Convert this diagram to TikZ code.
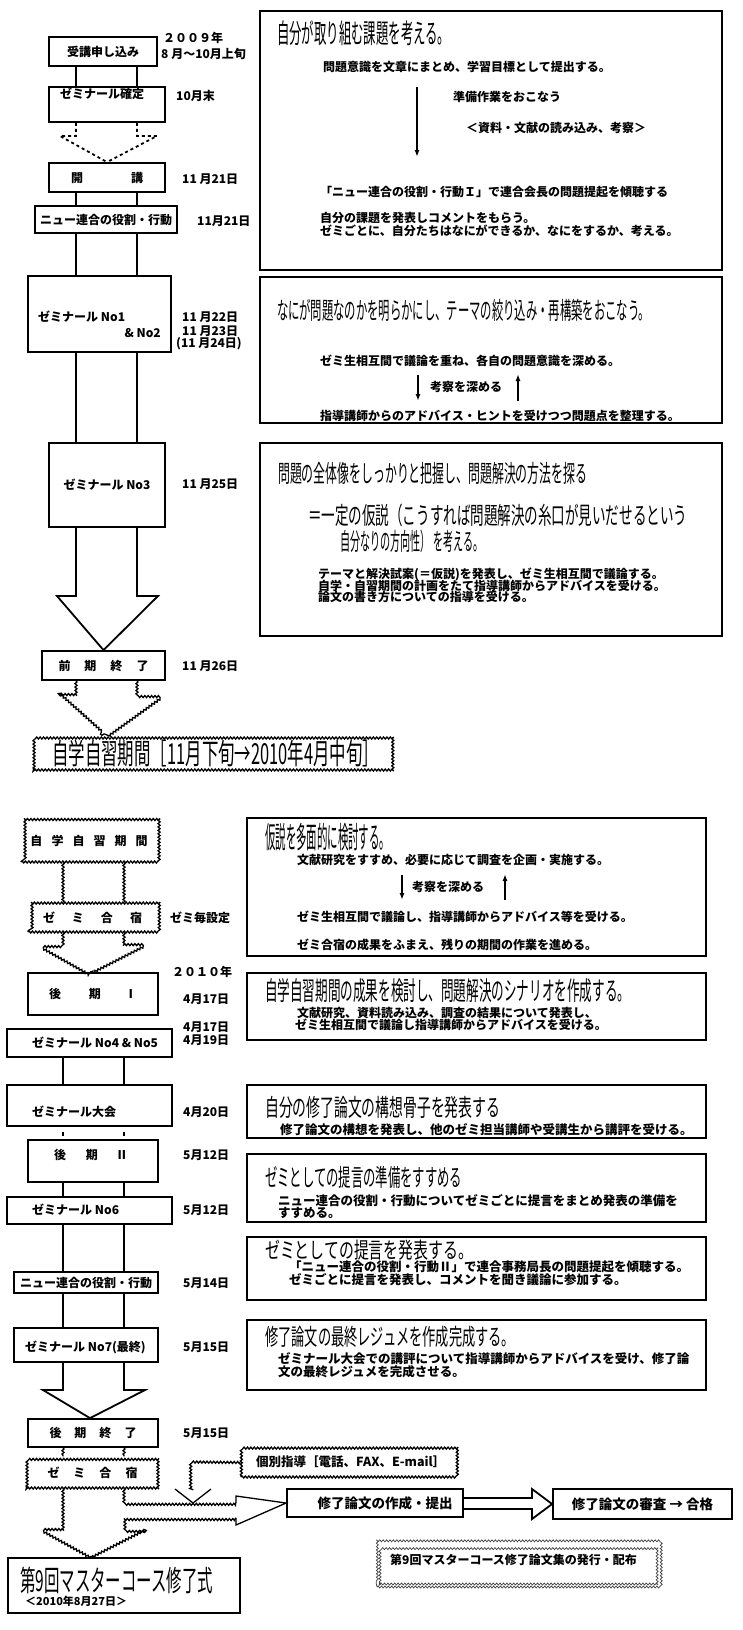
\documentclass[tikz,border=0pt]{standalone}
\usepackage{fontspec}
\usepackage{graphicx}
\usetikzlibrary{arrows.meta,decorations.pathmorphing,fit,calc}
\newfontfamily\jp{Noto Sans CJK JP}
\newcommand\ttl[3]{{\jp\fontsize{#1}{#1}\selectfont\resizebox{#2}{\height}{#3}}}
\newcommand\gap[1]{\hspace*{#1}}
\begin{document}
\begin{tikzpicture}[x=1pt,y=-1pt,
  box/.style={draw,line width=1.8pt,inner sep=0pt},
  wave/.style={decorate,decoration={snake,amplitude=1pt,segment length=3.4pt}},
  wbox/.style={draw,inner sep=0pt,line width=1.3pt,wave},
  ln/.style={line width=1.8pt},
  thn/.style={line width=1.3pt},
  wln/.style={line width=1.3pt,wave},
  dln/.style={line width=1.8pt,dash pattern=on 3pt off 3pt},
  tx/.style={inner sep=0pt,anchor=west,font={\jp\bfseries\fontsize{12}{12}\selectfont}},
  tl/.style={tx,font={\jp\bfseries\fontsize{12.5}{12.5}\selectfont}},
  tb/.style={tx,font={\jp\bfseries\fontsize{13.5}{13.5}\selectfont}},
  tt/.style={inner sep=0pt,anchor=west},
  ar/.style={line width=1.4pt,-{Latex[length=7pt,width=5pt]}},
]
\path[use as bounding box,fill=white] (0,0) rectangle (742,1630);
\coordinate (L1) at (76,0); \coordinate (R1) at (137,0);
\coordinate (L2) at (63,0); \coordinate (R2) at (124,0);

% ---------------- upper left column
\node[box,fit={(49,37)(157,66)}] (b1) {};
\node[tx,anchor=center] (b1t) at (b1.center) {受講申し込み};
\node[tx] (y09) at (163,38) {２００９年};
\node[tx] (d01) at (161,54) {8 月〜10月上旬};
\node[box,fit={(49,87)(165,122)}] (b2) {};
\node[tx] (b2t) at (60,94) {ゼミナール確定};
\node[tx] (d02) at (176,96) {10月末};
\node[box,fit={(49,163)(165,192)}] (b3) {};
\node[tx,anchor=center] (b3t) at (107,178) {開\gap{48pt}講};
\node[tx] (d03) at (182,179) {11 月21日};
\node[box,fit={(35,206)(177,233)}] (b4) {};
\node[tx,anchor=center] (b4t) at (b4.center) {ニュー連合の役割・行動};
\node[tx] (d04) at (197,221) {11月21日};
\node[box,fit={(28,276)(171,352)}] (b5) {};
\node[tx] (b5t) at (38,317) {ゼミナール No1};
\node[tx,anchor=east] (b5u) at (161,333) {\& No2};
\node[tx] (d05) at (182,317) {11 月22日};
\node[tx] (d06) at (182,331) {11 月23日};
\node[tx] (d07) at (176,344) {(11 月24日)};
\node[box,fit={(49,443)(165,527)}] (b6) {};
\node[tx,anchor=center] (b6t) at (b6.center) {ゼミナール No3};
\node[tx] (d08) at (182,484) {11 月25日};
\node[box,fit={(42,651)(165,680)}] (b7) {};
\node[tx,anchor=center] (b7t) at (b7.center) {前\gap{14pt}期\gap{14pt}終\gap{14pt}了};
\node[tx] (d09) at (182,666) {11 月26日};
\node[wbox,fit={(34,736)(393,770)}] (b8) {};
\node[tt] (b8t) at (52,753) {\ttl{29}{327pt}{自学自習期間［11月下旬→2010年4月中旬］}};

% connectors upper left
\draw[ln] (L1 |- b1.south) -- (L1 |- b2.north);
\draw[ln] (R1 |- b1.south) -- (R1 |- b2.north);
\draw[dln] (L1 |- b2.south) -- (76,136) -- (60,136) -- (b3.north);
\draw[dln] (R1 |- b2.south) -- (137,136) -- (157,136) -- (b3.north);
\draw[ln] (L1 |- b3.south) -- (L1 |- b4.north);
\draw[ln] (R1 |- b3.south) -- (R1 |- b4.north);
\draw[ln] (L1 |- b4.south) -- (L1 |- b5.north);
\draw[ln] (R1 |- b4.south) -- (R1 |- b5.north);
\draw[ln] (L1 |- b5.south) -- (L1 |- b6.north);
\draw[ln] (R1 |- b5.south) -- (R1 |- b6.north);
\draw[ln,line join=miter] (L1 |- b6.south) -- (76,596) -- (57,596) -- (b7.north) -- (158,596) -- (137,596) -- (R1 |- b6.south);
\draw[wln] (L1 |- b7.south) -- (76,695) -- (57,695) -- (b8.north -| 102,0);
\draw[wln] (R1 |- b7.south) -- (137,695) -- (158,695) -- (b8.north -| 102,0);

% ---------------- upper right boxes
\node[box,fit={(260,11)(722,270)}] (B1) {};
\node[tt] (B1a) at (277,33) {\ttl{27}{173pt}{自分が取り組む課題を考える。}};
\node[tx] (B1b) at (323,67) {問題意識を文章にまとめ、学習目標として提出する。};
\draw[ar] (417,87) coordinate (B1s) -- (417,157) coordinate (B1e);
\node[tx] (B1c) at (453,97) {準備作業をおこなう};
\node[tx] (B1d) at (466,128) {＜資料・文献の読み込み、考察＞};
\node[tx] (B1f) at (320,192) {「ニュー連合の役割・行動Ｉ」で連合会長の問題提起を傾聴する};
\node[tx] (B1g) at (320,218) {自分の課題を発表しコメントをもらう。};
\node[tx] (B1h) at (320,231) {ゼミごとに、自分たちはなにができるか、なにをするか、考える。};

\node[box,fit={(260,277)(722,423)}] (B2) {};
\node[tt] (B2a) at (277,310) {\ttl{24}{373pt}{なにが問題なのかを明らかにし、テーマの絞り込み・再構築をおこなう。}};
\node[tx] (B2b) at (320,361) {ゼミ生相互間で議論を重ね、各自の問題意識を深める。};
\node[tx] (B2c) at (430,387) {考察を深める};
\node[tx] (B2d) at (320,416) {指導講師からのアドバイス・ヒントを受けつつ問題点を整理する。};
\draw[ar] (418,375) -- (418,401);
\draw[ar] (518,401) -- (518,374);

\node[box,fit={(260,443)(722,636)}] (B3) {};
\node[tt] (B3a) at (278,473) {\ttl{24}{309pt}{問題の全体像をしっかりと把握し、問題解決の方法を探る}};
\node[tt] (B3b) at (308,515) {\ttl{24}{379pt}{＝一定の仮説（こうすれば問題解決の糸口が見いだせるという}};
\node[tt] (B3c) at (340,541) {\ttl{24}{143pt}{自分なりの方向性） を考える。}};
\node[tx] (B3d) at (318,574) {テーマと解決試案(＝仮説)を発表し、ゼミ生相互間で議論する。};
\node[tx] (B3e) at (318,586) {自学・自習期間の計画をたて指導講師からアドバイスを受ける。};
\node[tx] (B3f) at (318,597) {論文の書き方についての指導を受ける。};

% ---------------- lower left column
\node[wbox,fit={(21,820)(157,862)}] (c1) {};
\node[tx,anchor=center] (c1t) at (c1.center) {自\gap{9pt}学\gap{9pt}自\gap{9pt}習\gap{9pt}期\gap{9pt}間};
\node[wbox,fit={(28,903)(157,932)}] (c2) {};
\node[tx,anchor=center] (c2t) at (c2.center) {ゼ\gap{17pt}ミ\gap{17pt}合\gap{17pt}宿};
\node[tx] (e01) at (170,918) {ゼミ毎設定};
\node[box,fit={(28,973)(158,1015)}] (c3) {};
\node[tx,anchor=center] (c3t) at (93,994) {後\gap{28pt}期\gap{24pt}Ⅰ};
\node[tx] (y10) at (172,972) {２０１０年};
\node[tx] (e02) at (183,999) {4月17日};
\node[box,fit={(7,1029)(172,1057)}] (c4) {};
\node[tx] (c4t) at (32,1043) {ゼミナール No4 \& No5};
\node[tx] (e03) at (183,1027) {4月17日};
\node[tx] (e04) at (183,1040) {4月19日};
\node[box,fit={(7,1085)(172,1126)}] (c5) {};
\node[tx] (c5t) at (32,1112) {ゼミナール大会};
\node[tx] (e05) at (183,1112) {4月20日};
\node[box,fit={(28,1140)(158,1182)}] (c6) {};
\node[tx,anchor=center] (c6t) at (91,1155) {後\gap{20pt}期\gap{18pt}Ⅱ};
\node[tx] (e06) at (183,1155) {5月12日};
\node[box,fit={(7,1197)(172,1224)}] (c7) {};
\node[tx] (c7t) at (32,1210) {ゼミナール No6};
\node[tx] (e07) at (183,1210) {5月12日};
\node[box,fit={(14,1272)(158,1293)}] (c8) {};
\node[tx,anchor=center] (c8t) at (c8.center) {ニュー連合の役割・行動};
\node[tx] (e08) at (183,1283) {5月14日};
\node[box,fit={(14,1328)(158,1362)}] (c9) {};
\node[tx] (c9t) at (25,1347) {ゼミナール No7(最終)};
\node[tx] (e09) at (183,1347) {5月15日};
\node[box,fit={(28,1419)(158,1447)}] (c10) {};
\node[tx,anchor=center] (c10t) at (c10.center) {後\gap{13pt}期\gap{13pt}終\gap{13pt}了};
\node[tx] (e10) at (183,1433) {5月15日};
\node[wbox,fit={(27,1457)(158,1488)}] (c11) {};
\node[tx,anchor=center] (c11t) at (c11.center) {ゼ\gap{14pt}ミ\gap{14pt}合\gap{14pt}宿};
\node[box,fit={(8,1558)(240,1613)}] (e1) {};
\node[tt] (e1a) at (20,1580) {\ttl{29}{193pt}{第9回マスターコース修了式}};
\node[tx,font={\jp\bfseries\fontsize{11}{11}\selectfont}] (e1b) at (25,1601) {＜2010年8月27日＞};

% connectors lower left
\draw[wln] (L2 |- c1.south) -- (L2 |- c2.north);
\draw[wln] (R2 |- c1.south) -- (R2 |- c2.north);
\draw[wln] (L2 |- c2.south) -- (63,945) -- (44,945) -- (c3.north -| 92,0);
\draw[wln] (R2 |- c2.south) -- (124,945) -- (145,945) -- (c3.north -| 92,0);
\draw[ln] (L2 |- c4.south) -- (L2 |- c5.north);
\draw[ln] (R2 |- c4.south) -- (R2 |- c5.north);
\draw[ln] (L2 |- c5.south) ++(0,5) -- ++(0,4);
\draw[ln] (R2 |- c5.south) ++(0,5) -- ++(0,4);
\draw[ln] (L2 |- c6.south) -- (L2 |- c7.north);
\draw[ln] (R2 |- c6.south) -- (R2 |- c7.north);
\draw[ln] (L2 |- c7.south) -- (L2 |- c8.north);
\draw[ln] (R2 |- c7.south) -- (R2 |- c8.north);
\draw[ln] (L2 |- c8.south) -- (L2 |- c9.north);
\draw[ln] (R2 |- c8.south) -- (R2 |- c9.north);
\draw[ln,line join=miter] (L2 |- c9.south) -- (63,1390) -- (43,1390) -- (c10.north -| 90,0) -- (145,1390) -- (124,1390) -- (R2 |- c9.south);
\draw[wln] (L2 |- c10.south) -- (L2 |- c11.north);
\draw[wln] (R2 |- c10.south) -- (R2 |- c11.north);
\draw[wln] (L2 |- c11.south) -- (63,1530) -- (43,1530) -- (e1.north -| 92,0);
\draw[wln] (e1.north -| 92,0) -- (145,1530) -- (124,1530) -- (124,1518) -- (236,1518);
\draw[wln] (R2 |- c11.south) -- (124,1503) -- (236,1503);

% ---------------- lower right
\node[box,fit={(247,818)(706,956)}] (D1) {};
\node[tt] (D1a) at (265,837) {\ttl{30}{125pt}{仮説を多面的に検討する。}};
\node[tx] (D1b) at (297,860) {文献研究をすすめ、必要に応じて調査を企画・実施する。};
\node[tx] (D1c) at (412,887) {考察を深める};
\node[tx] (D1d) at (297,917) {ゼミ生相互間で議論し、指導講師からアドバイス等を受ける。};
\node[tx] (D1e) at (297,945) {ゼミ合宿の成果をふまえ、残りの期間の作業を進める。};
\draw[ar] (402,875) -- (402,900);
\draw[ar] (505,900) -- (505,874);

\node[box,fit={(247,973)(706,1040)}] (D2) {};
\node[tt] (D2a) at (265,991) {\ttl{26}{365pt}{自学自習期間の成果を検討し、問題解決のシナリオを作成する。}};
\node[tx] (D2b) at (297,1013) {文献研究、資料読み込み、調査の結果について発表し、};
\node[tx] (D2c) at (295,1025) {ゼミ生相互間で議論し指導講師からアドバイスを受ける。};

\node[box,fit={(247,1085)(706,1138)}] (D3) {};
\node[tt] (D3a) at (265,1107) {\ttl{24}{235pt}{自分の修了論文の構想骨子を発表する}};
\node[tl] (D3b) at (280,1130) {修了論文の構想を発表し、他のゼミ担当講師や受講生から講評を受ける。};

\node[box,fit={(247,1154)(706,1222)}] (D4) {};
\node[tt] (D4a) at (265,1177) {\ttl{24}{197pt}{ゼミとしての提言の準備をすすめる}};
\node[tl] (D4b) at (278,1201) {ニュー連合の役割・行動についてゼミごとに提言をまとめ発表の準備を};
\node[tl] (D4c) at (278,1213) {すすめる。};

\node[box,fit={(247,1237)(706,1300)}] (D5) {};
\node[tt] (D5a) at (265,1250) {\ttl{22}{208pt}{ゼミとしての提言を発表する。}};
\node[tl] (D5b) at (289,1267) {「ニュー連合の役割・行動Ⅱ」で連合事務局長の問題提起を傾聴する。};
\node[tl] (D5c) at (289,1280) {ゼミごとに提言を発表し、コメントを聞き議論に参加する。};

\node[box,fit={(247,1320)(706,1390)}] (D6) {};
\node[tt] (D6a) at (265,1337) {\ttl{23}{250pt}{修了論文の最終レジュメを作成完成する。}};
\node[tl] (D6b) at (278,1359) {ゼミナール大会での講評について指導講師からアドバイスを受け、修了論};
\node[tl] (D6c) at (278,1372) {文の最終レジュメを完成させる。};

% ---------------- bottom right
\node[wbox,fit={(241,1448)(456,1477)}] (d0) {};
\node[tl] (d0t) at (256,1462) {個別指導［電話、FAX、E-mail］};
\node[box,fit={(287,1489)(463,1517)}] (d1) {};
\node[tb,anchor=center] (d1t) at (385,1503) {修了論文の作成・提出};
\node[box,fit={(553,1489)(732,1519)}] (d2) {};
\node[tb,anchor=center] (d2t) at (d2.center) {修了論文の審査 → 合格};
\node[draw=black!75,line width=0.7pt,inner sep=0pt,wave,fit={(377,1543)(660,1587)}] (d3) {};
\node[draw=black!75,line width=0.7pt,inner sep=0pt,wave,fit={(380,1546)(657,1584)}] (d3i) {};
\node[tx,font={\jp\bfseries\fontsize{12}{12}\selectfont}] (d3t) at (390,1560) {第9回マスターコース修了論文集の発行・配布};

\draw[thn,line join=miter] (236,1503) -- (236,1496) -- (d1.west) -- (236,1525) -- (236,1518);
\draw[wln] (d0.west) -- (193,1462) -- (193,1490);
\draw[thn] (175,1489) -- (193,1503) -- (211,1489);
\draw[ln] (d1.east |- 0,1498) -- (532,1498) -- (532,1489) -- (d2.west) -- (532,1519) -- (532,1509) -- (d1.east |- 0,1509);
\end{tikzpicture}
\end{document}
